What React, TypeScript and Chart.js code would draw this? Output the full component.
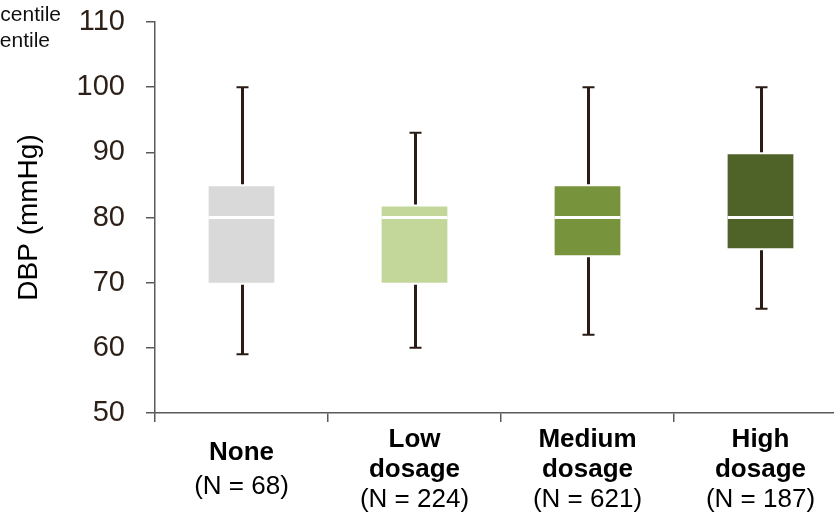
import React, { useEffect, useRef } from "react";
import { Chart, registerables } from "chart.js";

Chart.register(...registerables);

const categories = ["None", "Low dosage", "Medium dosage", "High dosage"];
const nameLines = [["None"], ["Low", "dosage"], ["Medium", "dosage"], ["High", "dosage"]];
const nLabels = ["(N = 68)", "(N = 224)", "(N = 621)", "(N = 187)"];
const whiskerLow = [59, 60, 62, 66];
const q1 = [70, 70, 74.2, 75.3];
const medians = [80, 80, 80, 80];
const q3 = [84.8, 81.7, 84.8, 89.7];
const whiskerHigh = [100, 93, 100, 100];
const boxColors = ["#d9d9d9", "#c4d79b", "#77933c", "#4f6228"];
const legendLines = ["95th percentile", "5th percentile"];

const FONT = "'Liberation Sans', Arial, sans-serif";

const boxPlugin = {
  id: "boxExtras",
  afterDatasetsDraw(chart: any) {
    const ctx = chart.ctx;
    const xs = chart.scales.x;
    const ys = chart.scales.y;
    ctx.save();
    for (let i = 0; i < categories.length; i++) {
      const cx = Math.round(xs.getPixelForValue(i)) + 0.5;
      const yMin = ys.getPixelForValue(whiskerLow[i]);
      const yQ1 = ys.getPixelForValue(q1[i]);
      const yQ3 = ys.getPixelForValue(q3[i]);
      const yMax = ys.getPixelForValue(whiskerHigh[i]);
      const yMed = ys.getPixelForValue(medians[i]);
      ctx.strokeStyle = "#2a1b14";
      ctx.lineWidth = 3;
      ctx.beginPath();
      ctx.moveTo(cx, yMin);
      ctx.lineTo(cx, yQ1 + 2);
      ctx.moveTo(cx, yQ3 - 2);
      ctx.lineTo(cx, yMax);
      ctx.stroke();
      ctx.lineWidth = 2;
      ctx.beginPath();
      ctx.moveTo(cx - 6, yMin);
      ctx.lineTo(cx + 6, yMin);
      ctx.moveTo(cx - 6, yMax);
      ctx.lineTo(cx + 6, yMax);
      ctx.stroke();
      const meta = chart.getDatasetMeta(0);
      const bar: any = meta.data[i];
      const half = bar.width / 2;
      ctx.strokeStyle = "#ffffff";
      ctx.lineWidth = 3;
      ctx.beginPath();
      ctx.moveTo(bar.x - half, yMed);
      ctx.lineTo(bar.x + half, yMed);
      ctx.stroke();
    }
    ctx.restore();
  },
  afterDraw(chart: any) {
    const ctx = chart.ctx;
    const xs = chart.scales.x;
    ctx.save();
    ctx.textAlign = "center";
    ctx.textBaseline = "middle";
    ctx.fillStyle = "#000000";
    for (let i = 0; i < categories.length; i++) {
      const cx = xs.getPixelForValue(i);
      const lines = nameLines[i].length + 1;
      const gap = lines === 2 ? 34 : 30;
      const center = 470;
      let y = center - ((lines - 1) * gap) / 2;
      ctx.font = `bold 26px ${FONT}`;
      for (const l of nameLines[i]) {
        ctx.fillText(l, cx, y);
        y += gap;
      }
      ctx.font = `26px ${FONT}`;
      ctx.fillText(nLabels[i], cx, y);
    }
    ctx.font = `21px ${FONT}`;
    ctx.textAlign = "right";
    ctx.textBaseline = "alphabetic";
    ctx.fillStyle = "#111111";
    ctx.fillText(legendLines[0], 61, 21);
    ctx.fillText(legendLines[1], 50, 47);
    ctx.restore();
  },
};

export default function App() {
  const ref = useRef<HTMLCanvasElement>(null);
  useEffect(() => {
    document.body.style.margin = "0";
    document.body.style.overflow = "hidden";
    const chart = new Chart(ref.current as HTMLCanvasElement, {
      type: "bar",
      data: {
        labels: categories,
        datasets: [
          {
            data: categories.map((_, i) => [q1[i], q3[i]]) as any,
            backgroundColor: boxColors,
            borderWidth: 0,
            barPercentage: 0.38,
            categoryPercentage: 1,
          },
        ],
      },
      options: {
        animation: false,
        responsive: false,
        layout: { padding: { top: 22, right: 3, left: 0, bottom: 0 } },
        plugins: { legend: { display: false }, tooltip: { enabled: false } },
        scales: {
          x: {
            offset: true,
            grid: {
              offset: true,
              drawOnChartArea: false,
              drawTicks: true,
              tickLength: 9,
              color: "#5a5a5a",
              lineWidth: 1.5,
            },
            border: { color: "#5a5a5a", width: 1.5 },
            ticks: { display: false },
            afterFit: (s: any) => {
              s.height = 103;
              s.paddingLeft = 0;
              s.paddingRight = 0;
            },
          },
          y: {
            min: 50,
            max: 110,
            grid: {
              drawOnChartArea: false,
              tickLength: 9,
              color: "#5a5a5a",
              lineWidth: 1.5,
            },
            border: { color: "#5a5a5a", width: 1.5 },
            ticks: {
              stepSize: 10,
              padding: 21,
              color: "#2b1f17",
              font: { size: 29, family: FONT },
            },
            title: {
              display: true,
              text: "DBP (mmHg)",
              color: "#000000",
              font: { size: 28, family: FONT },
              padding: { top: 12, bottom: 0 },
            },
            afterFit: (s: any) => {
              s.width = 155;
              s.paddingTop = 0;
              s.paddingBottom = 0;
            },
          },
        },
      },
      plugins: [boxPlugin],
    });
    return () => chart.destroy();
  }, []);
  return (
    <div style={{ position: "fixed", left: 0, top: 0, width: 834, height: 516, overflow: "hidden", background: "#fff" }}>
      <canvas ref={ref} width={850} height={516} style={{ display: "block" }} />
    </div>
  );
}
